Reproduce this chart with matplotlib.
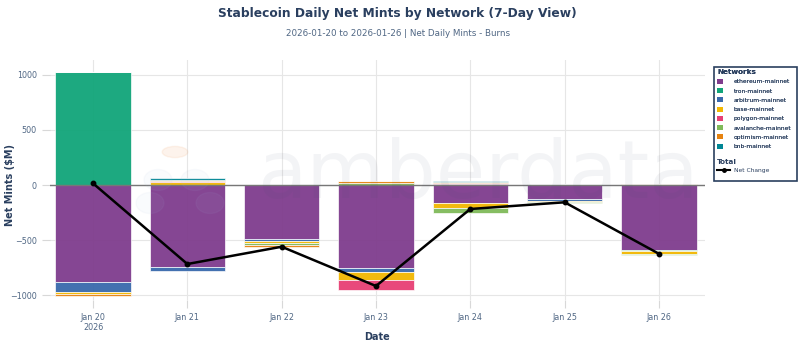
import matplotlib
matplotlib.use("Agg")
import matplotlib.pyplot as plt
from matplotlib.patches import Patch, Rectangle, Ellipse, Circle
from matplotlib.lines import Line2D
import numpy as np

# net daily mints - burns, $M
dates = ["Jan 20\n2026", "Jan 21", "Jan 22", "Jan 23", "Jan 24", "Jan 25", "Jan 26"]
ethereum = [-880, -742, -491, -758, -167, -130, -591]
tron = [1025, 0, 0, 0, 0, 9, -10]
arbitrum = [-95, -36, -15, -30, 12, -18, 0]
base = [-16, 25, -25, -76, -39, -8, -22]
polygon = [0, 15, 0, -88, 10, 0, 0]
avalanche = [0, 0, -10, 20, -45, -10, -12]
optimism = [-14, 8, -20, 16, 8, 0, 12]
bnb = [0, 12, 0, 0, 6, 0, 0]
net_change = [15, -718, -561, -918, -218, -157, -625]

networks = ["ethereum-mainnet", "tron-mainnet", "arbitrum-mainnet", "base-mainnet",
            "polygon-mainnet", "avalanche-mainnet", "optimism-mainnet", "bnb-mainnet"]
series = [ethereum, tron, arbitrum, base, polygon, avalanche, optimism, bnb]
colors = ["#7F3C8D", "#11A579", "#3969AC", "#F2B701",
          "#E73F74", "#80BA5A", "#E68310", "#008695"]

NAVY = "#2a3f5f"
TICK = "#506784"

fig = plt.figure(figsize=(8, 3.5), dpi=100)
ax = fig.add_axes([50 / 800, 1 - 300 / 350, 655 / 800, 240 / 350])

x = np.arange(len(dates))
pos = np.zeros(len(dates))
neg = np.zeros(len(dates))
for name, vals, c in zip(networks, series, colors):
    v = np.array(vals, dtype=float)
    bottom = np.where(v >= 0, pos, neg)
    ax.bar(x, v, 0.8, bottom=bottom, color=c, alpha=0.95,
           edgecolor="white", linewidth=0.5, zorder=3)
    pos += np.where(v >= 0, v, 0)
    neg += np.where(v < 0, v, 0)

ax.plot(x, net_change, color="black", lw=1.8, marker="o", ms=3.2, zorder=5)

ax.set_xlim(-0.456, 6.488)
ax.set_ylim(-1045, 1136)
ax.set_xticks(x)
ax.set_xticklabels(dates)
ax.set_yticks([-1000, -500, 0, 500, 1000])
ax.set_yticklabels(["\u22121000", "\u2212500", "0", "500", "1000"])
ax.tick_params(axis="both", colors="#d8d8d8", labelcolor=TICK, labelsize=5.8,
               length=6, width=0.8)
ax.tick_params(axis="x", pad=3)
ax.grid(True, color="#e6e6e6", lw=0.8, zorder=0)
ax.axhline(0, color="#777777", lw=1.0, zorder=4)
for s in ax.spines.values():
    s.set_visible(False)
ax.set_axisbelow(True)

fig.text(377 / 800, 1 - 337 / 350, "Date", fontsize=7, fontweight="bold",
         color=NAVY, ha="center", va="center")
fig.text(0.013, 1 - 185 / 350, "Net Mints ($M)", rotation=90,
         fontsize=7, fontweight="bold", color=NAVY, ha="center", va="center")

fig.text(0.497, 1 - 14 / 350, "Stablecoin Daily Net Mints by Network (7-Day View)",
         fontsize=8.8, fontweight="bold", color=NAVY, ha="center", va="center")
fig.text(0.497, 1 - 33 / 350, "2026-01-20 to 2026-01-26 | Net Daily Mints - Burns",
         fontsize=6.3, color=TICK, ha="center", va="center")

# faint watermark
fig.text(478 / 800, 1 - 176 / 350, "amberdata", fontsize=58, color="#3d4a6b",
         alpha=0.06, ha="center", va="center", zorder=10)
fig.patches.append(Circle((175 / 800, 1 - 152 / 350), 0.016, transform=fig.transFigure,
                          color="#f4a46a", alpha=0.12, zorder=10))
for cx, cy in [(158, 180), (195, 180), (150, 203), (210, 203)]:
    fig.patches.append(Ellipse((cx / 800, 1 - cy / 350), 0.035, 0.06,
                               transform=fig.transFigure, color="#a9bfe0",
                               alpha=0.06, zorder=10))

# legend
handles = [Patch(facecolor=c, edgecolor="none") for c in colors]
leg1 = fig.legend(handles, networks, loc="upper left",
                  bbox_to_anchor=(716 / 800, 1 - 68 / 350), frameon=False,
                  fontsize=4.3, title="Networks", alignment="left",
                  title_fontproperties={"size": 5.2, "weight": "bold"},
                  handlelength=0.9, handleheight=0.9, handletextpad=1.9,
                  labelspacing=0.62, borderpad=0.2, borderaxespad=0)
for t in leg1.get_texts():
    t.set_color(NAVY)
leg1.get_title().set_color(NAVY)
fig.add_artist(leg1)
line_h = Line2D([], [], color="black", lw=1.5, marker="o", ms=2.5)
leg2 = fig.legend([line_h], ["Net Change"], loc="upper left",
                  bbox_to_anchor=(716 / 800, 1 - 158 / 350), frameon=False,
                  fontsize=4.3, title="Total", alignment="left",
                  title_fontproperties={"size": 5.2, "weight": "bold"},
                  handlelength=2.2, handletextpad=0.6, borderpad=0.2, borderaxespad=0)
for t in leg2.get_texts():
    t.set_color(NAVY)
leg2.get_title().set_color(NAVY)
fig.patches.append(Rectangle((714 / 800, 1 - 181 / 350), 83 / 800, 114 / 350,
                             transform=fig.transFigure, fill=False,
                             edgecolor=NAVY, lw=1.2, zorder=11))

fig.savefig("out.png", dpi=100)
